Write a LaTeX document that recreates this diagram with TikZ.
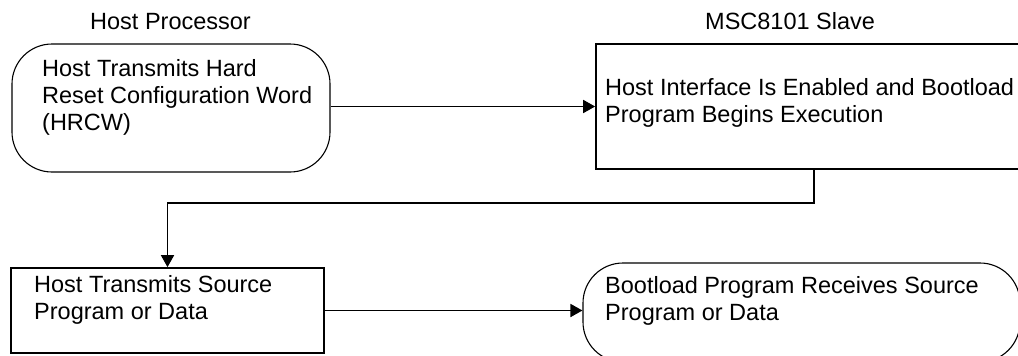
\documentclass[tikz,border=0pt]{standalone}
\usepackage{fontspec}
\setmainfont{Liberation Sans}
\usetikzlibrary{arrows.meta}

\tikzset{
  every node/.style={font=\fontsize{23.5}{27}\selectfont, inner sep=0pt},
  txt/.style={anchor=base west},
  stepbox/.style={draw, line width=1.7pt, rectangle},
  termbox/.style={draw, line width=1.1pt, rectangle, rounded corners=40pt},
  flow/.style={line width=1.7pt, -{Triangle[length=12pt,width=13pt]}}
}

\begin{document}
\begin{tikzpicture}[x=1pt, y=-1pt]
  \useasboundingbox (0,0) rectangle (1018,356);
  \clip (0,0) rectangle (1018,356);

  % column headings
  \node[txt] (hp)  at (90,29)  {Host Processor};
  \node[txt] (msc) at (705,29) {MSC8101 Slave};

  % process boxes
  \node[termbox, minimum width=318pt, minimum height=128pt] (A) at (171,108) {};
  \node[stepbox, minimum width=436pt, minimum height=125pt] (B) at (814,106.5) {};
  \node[stepbox, minimum width=313pt, minimum height=85pt]  (C) at (167.5,310.5) {};
  \node[termbox, minimum width=437pt, minimum height=99pt]  (D) at (801.5,312.5) {};

  % box texts
  \node[txt] (a1) at (42,76)  {Host Transmits Hard};
  \node[txt] (a2) at (42,103) {Reset Configuration Word};
  \node[txt] (a3) at (42,130) {(HRCW)};

  \node[txt] (b1) at (605,95)  {Host Interface Is Enabled and Bootload};
  \node[txt] (b2) at (605,122) {Program Begins Execution};

  \node[txt] (c1) at (34,292) {Host Transmits Source};
  \node[txt] (c2) at (34,319) {Program or Data};

  \node[txt] (d1) at (605,293) {Bootload Program Receives Source};
  \node[txt] (d2) at (605,320) {Program or Data};

  % connectors
  \draw[flow] (A.east |- B.west) -- (B.west);
  \draw[flow] (B.south) -- ++(0,33) -| (C.north);
  \draw[flow] (C.east) -- (C.east -| D.west);
\end{tikzpicture}
\end{document}
